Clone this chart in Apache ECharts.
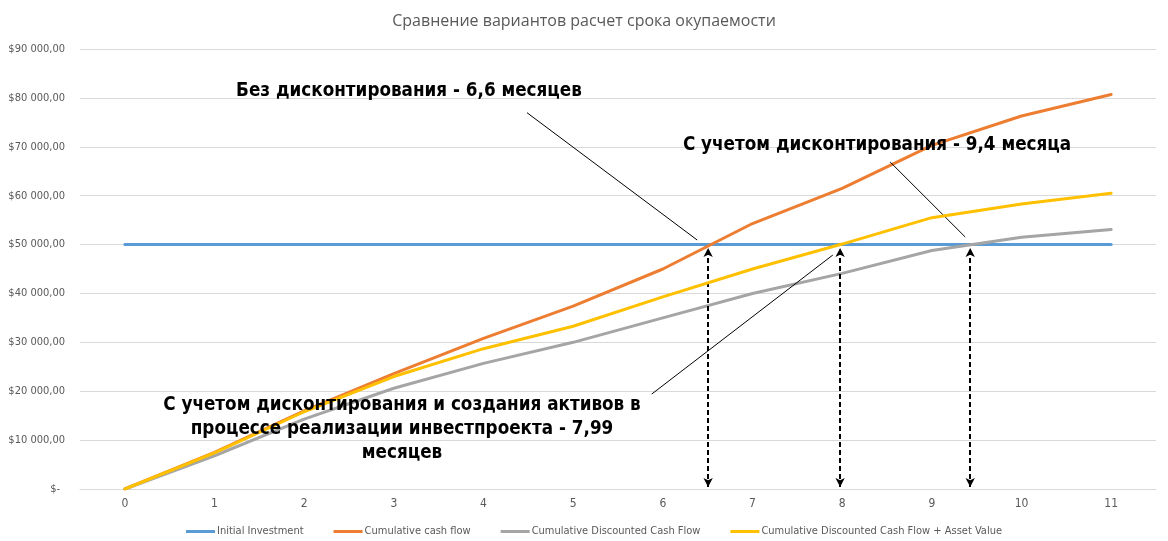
<!DOCTYPE html>
<html>
<head>
<meta charset="utf-8">
<script src="https://cdn.jsdelivr.net/npm/echarts@6/dist/echarts.min.js"></script>
<style>
html,body{margin:0;padding:0;background:#fff;}
#chart{width:1168px;height:541px;}
</style>
</head>
<body>
<div id="chart"></div>
<script>
// ---- data ----
const categories = [0, 1, 2, 3, 4, 5, 6, 7, 8, 9, 10, 11];
const yTicks = [0, 10000, 20000, 30000, 40000, 50000, 60000, 70000, 80000, 90000];
const initialInvestment = [50000, 50000, 50000, 50000, 50000, 50000, 50000, 50000, 50000, 50000, 50000, 50000];
const cumulativeCashFlow = [0, 7500, 16000, 23600, 30800, 37400, 45000, 54300, 61500, 70300, 76300, 80700];
const cumulativeDiscounted = [0, 6800, 14300, 20600, 25700, 30000, 35000, 40000, 44100, 48800, 51500, 53100];
const cumulativeDiscountedAsset = [0, 7400, 15800, 23000, 28700, 33300, 39300, 45000, 50100, 55500, 58300, 60500];
const seriesNames = ['Initial Investment', 'Cumulative cash flow', 'Cumulative Discounted Cash Flow', 'Cumulative Discounted Cash Flow + Asset Value'];
const titleText = 'Сравнение вариантов расчет срока окупаемости';
// payback points (month) marked with dashed double arrows
const paybackMonths = [6.505, 7.977, 9.428];
const arrowTop = 49300;
const arrowBottom = 400;
// leader lines from labels to crossings: [[x1, y1], [x2, y2]]
const leaderLines = [
  [[4.485, 76970], [6.383, 50930]],
  [[8.535, 66890], [9.372, 51550]],
  [[5.877, 19430], [7.896, 47860]]
];
const annotationTexts = [
  'Без дисконтирования - 6,6 месяцев',
  'С учетом дисконтирования - 9,4 месяца',
  'С учетом дисконтирования и создания активов в\nпроцессе реализации инвестпроекта - 7,99\nмесяцев'
];

const pair = arr => categories.map((c, i) => [c, arr[i]]);
const narrow = '"Liberation Sans Narrow", "DejaVu Sans Condensed", "Roboto", sans-serif';
const annFont = '"DejaVu Sans Condensed", "Liberation Sans Narrow", "Roboto", sans-serif';

function fmtMoney(v) {
  if (v === 0) return '{z|$-}';
  const s = String(Math.round(v)).replace(/\B(?=(\d{3})+(?!\d))/g, ' ');
  return '$' + s + ',00';
}

const colors = ['#5B9BD5', '#ED7D31', '#A5A5A5', '#FFC000'];
const dataSets = [initialInvestment, cumulativeCashFlow, cumulativeDiscounted, cumulativeDiscountedAsset];

const lineSeries = dataSets.map((d, i) => ({
  name: seriesNames[i],
  type: 'line',
  data: pair(d),
  symbol: 'none',
  lineStyle: { width: 3, color: colors[i], cap: 'round' },
  itemStyle: { color: colors[i] },
  z: 2 + i
}));

const markSeries = {
  name: 'annotations',
  type: 'line',
  data: [],
  silent: true,
  z: 10,
  markLine: {
    silent: true,
    animation: false,
    label: { show: false },
    emphasis: { disabled: true },
    data: [
      ...paybackMonths.map(m => [
        { coord: [m, arrowBottom], symbol: 'arrow', symbolSize: [7, 9], lineStyle: { type: [5, 3], width: 2, color: '#000' } },
        { coord: [m, arrowTop], symbol: 'arrow', symbolSize: [7, 9] }
      ]),
      ...leaderLines.map(l => [
        { coord: l[0], symbol: 'none', lineStyle: { type: 'solid', width: 1, color: '#000' } },
        { coord: l[1], symbol: 'none' }
      ])
    ]
  }
};

const chart = echarts.init(document.getElementById('chart'), null, { renderer: 'canvas' });
chart.setOption({
  animation: false,
  backgroundColor: '#fff',
  title: {
    text: titleText,
    left: 'center',
    top: 8,
    textStyle: { fontFamily: '"Open Sans", sans-serif', fontSize: 16, fontWeight: 'normal', color: '#595959' }
  },
  legend: {
    data: seriesNames,
    bottom: -1,
    left: 181,
    icon: 'rect',
    itemWidth: 29,
    itemHeight: 3,
    itemGap: 30,
    textStyle: { fontFamily: narrow, fontSize: 11, color: '#595959', padding: [0, 0, 0, -3] }
  },
  grid: { left: 80, right: 12, top: 49, bottom: 52, containLabel: false },
  xAxis: {
    type: 'value',
    min: -0.5,
    max: 11.5,
    axisLine: { show: true, lineStyle: { color: '#D9D9D9', width: 1 } },
    axisTick: { show: false },
    splitLine: { show: false },
    axisLabel: {
      customValues: categories,
      color: '#595959',
      fontFamily: narrow,
      fontSize: 12,
      margin: 9
    }
  },
  yAxis: {
    type: 'value',
    min: 0,
    max: 90000,
    interval: 10000,
    axisLine: { show: false },
    axisTick: { show: false },
    splitLine: { lineStyle: { color: '#D9D9D9', width: 1 } },
    axisLabel: {
      customValues: yTicks,
      formatter: fmtMoney,
      color: '#595959',
      fontFamily: narrow,
      fontSize: 11,
      margin: 15,
      rich: { z: { color: '#595959', fontFamily: narrow, fontSize: 11, padding: [0, 5, 0, 0] } }
    }
  },
  series: [...lineSeries, markSeries],
  graphic: [
    { type: 'text', x: 409, y: 91, z: 100, style: { text: annotationTexts[0], textAlign: 'center', textVerticalAlign: 'middle', fill: '#000', font: 'bold 18.7px ' + annFont } },
    { type: 'text', x: 877, y: 145, z: 100, style: { text: annotationTexts[1], textAlign: 'center', textVerticalAlign: 'middle', fill: '#000', font: 'bold 18.7px ' + annFont } },
    { type: 'text', x: 402, y: 429, z: 100, style: { text: annotationTexts[2], textAlign: 'center', textVerticalAlign: 'middle', lineHeight: 24, fill: '#000', font: 'bold 18.7px ' + annFont } }
  ]
});
</script>
</body>
</html>
